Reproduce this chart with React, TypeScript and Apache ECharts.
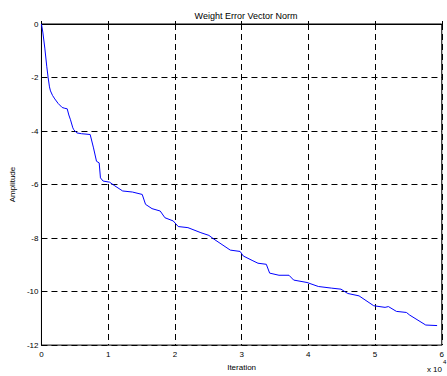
import React, { useEffect, useRef } from "react";
import * as echarts from "echarts";

const title = "Weight Error Vector Norm";
const xLabel = "Iteration";
const yLabel = "Amplitude";
const iterations = [
  0, 200, 500, 800, 1000, 1200, 1350, 1660, 2000, 2500, 3100, 3500, 3860, 4100, 4350, 4700, 4840,
  5300, 6000, 7300, 7800, 8250, 8650, 8840, 9240, 10200, 11000, 12170, 13640, 15100, 15600, 16570,
  17800, 18500, 19750, 20500, 21950, 23900, 25100, 25850, 28300, 29770, 30250, 31700, 32450, 33700,
  34200, 35600, 37100, 37800, 39800, 41500, 43450, 44900, 45900, 47600, 49800, 51500, 52000, 53200,
  54700, 55200, 57600, 59300,
];
const amplitude = [
  0, -0.3, -0.9, -1.6, -2.0, -2.35, -2.5, -2.67, -2.8, -2.97, -3.12, -3.15, -3.17, -3.4, -3.58, -3.88,
  -3.95, -4.07, -4.1, -4.13, -4.63, -5.13, -5.19, -5.75, -5.87, -5.91, -6.05, -6.24, -6.28, -6.37,
  -6.74, -6.9, -6.99, -7.24, -7.36, -7.57, -7.61, -7.8, -7.9, -8.04, -8.45, -8.5, -8.67, -8.85, -8.94,
  -8.98, -9.31, -9.39, -9.39, -9.57, -9.66, -9.81, -9.87, -9.91, -10.07, -10.16, -10.53, -10.59,
  -10.56, -10.74, -10.78, -10.88, -11.25, -11.27,
];
const xMin = 0;
const xMax = 60000;
const xStep = 10000;
const yMin = -12;
const yMax = 0;
const yStep = 2;

export default function App() {
  const ref = useRef<HTMLDivElement>(null);
  useEffect(() => {
    if (!ref.current) return;
    const chart = echarts.init(ref.current, null, { renderer: "svg" });
    const font = "Arial, 'Liberation Sans', sans-serif";
    const dash = { color: "#000", width: 1, type: [6, 4] as any };
    chart.setOption({
      animation: false,
      backgroundColor: "#fff",
      title: {
        text: title,
        left: 241,
        top: 6,
        textAlign: "center",
        textStyle: { fontSize: 9, fontWeight: "normal", color: "#000", fontFamily: font },
      },
      grid: {
        left: 37,
        right: 1,
        top: 24,
        bottom: 30,
        show: true,
        borderColor: "#000",
        borderWidth: 1,
        backgroundColor: "transparent",
      },
      xAxis: {
        type: "value",
        min: xMin,
        max: xMax,
        interval: xStep,
        name: xLabel,
        nameLocation: "middle",
        nameGap: 16,
        nameTextStyle: { fontSize: 8, color: "#000", fontFamily: font },
        axisLine: { show: true, lineStyle: { color: "#000", width: 1 } },
        axisTick: { show: true, inside: true, length: 3, lineStyle: { color: "#000" } },
        axisLabel: {
          fontSize: 8,
          color: "#000",
          fontFamily: font,
          margin: 5,
          formatter: (v: number) => String(v / 10000),
        },
        splitLine: { show: true, lineStyle: dash },
      },
      yAxis: {
        type: "value",
        min: yMin,
        max: yMax,
        interval: yStep,
        name: yLabel,
        nameLocation: "middle",
        nameGap: 22,
        nameRotate: 90,
        nameTextStyle: { fontSize: 8, color: "#000", fontFamily: font },
        axisLine: { show: true, lineStyle: { color: "#000", width: 1 } },
        axisTick: { show: true, inside: true, length: 3, lineStyle: { color: "#000" } },
        axisLabel: { fontSize: 8, color: "#000", fontFamily: font, margin: 3 },
        splitLine: { show: true, lineStyle: dash },
      },
      graphic: [
        {
          type: "text",
          right: 5,
          top: 365,
          style: { text: "x 10", fontSize: 8, fill: "#000", fontFamily: font },
        },
        {
          type: "text",
          left: 443,
          top: 359,
          style: { text: "4", fontSize: 6, fill: "#000", fontFamily: font },
        },
      ],
      series: [
        {
          type: "line",
          data: iterations.map((x, i) => [x, amplitude[i]]),
          showSymbol: false,
          symbol: "none",
          lineStyle: { color: "#0000ff", width: 1 },
          itemStyle: { color: "#0000ff" },
        },
      ],
    });
    return () => chart.dispose();
  }, []);
  return <div ref={ref} style={{ width: 447, height: 376, position: "absolute", left: 0, top: 0 }} />;
}
